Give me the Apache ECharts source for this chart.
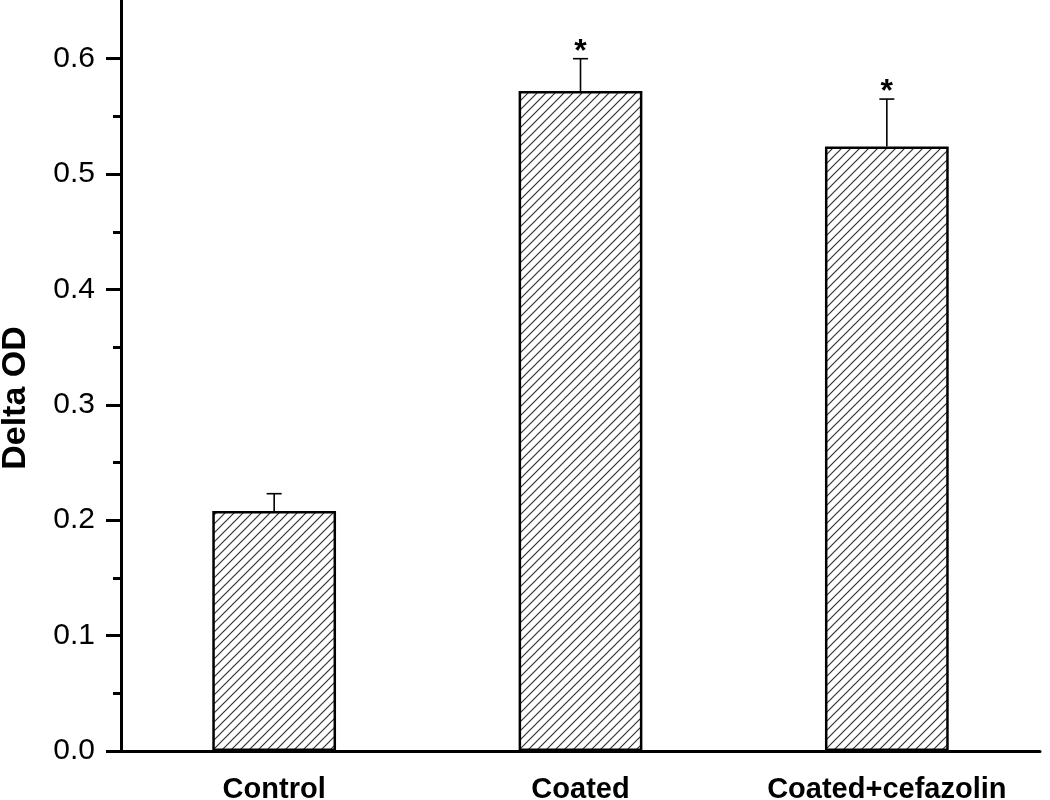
<!DOCTYPE html>
<html>
<head>
<meta charset="utf-8">
<script src="https://cdn.jsdelivr.net/npm/echarts@6/dist/echarts.min.js"></script>
<style>html,body{margin:0;padding:0;background:#fff}#c{width:1050px;height:800px}</style>
</head>
<body>
<div id="c"></div>
<script>
const categories = ['Control', 'Coated', 'Coated+cefazolin'];
const meanValues = [0.208, 0.572, 0.524];
const errorValues = [0.015, 0.028, 0.041];
const significance = ['', '*', '*'];
const majorTicks = [0, 0.1, 0.2, 0.3, 0.4, 0.5, 0.6];
const minorTicks = [0.05, 0.15, 0.25, 0.35, 0.45, 0.55];

function hatch() {
  const s = 9;
  const c = document.createElement('canvas');
  c.width = s; c.height = s;
  const g = c.getContext('2d');
  g.fillStyle = '#ffffff';
  g.fillRect(0, 0, s, s);
  g.strokeStyle = '#333333';
  g.lineWidth = 1.2;
  g.beginPath();
  g.moveTo(-1, s + 1); g.lineTo(s + 1, -1);
  g.moveTo(-2, 2); g.lineTo(2, -2);
  g.moveTo(s - 2, s + 2); g.lineTo(s + 2, s - 2);
  g.stroke();
  return c;
}

const FONT = 'Liberation Sans, Arial, sans-serif';
const chart = echarts.init(document.getElementById('c'));
const errData = categories.map((c, i) => [i, meanValues[i], meanValues[i] + errorValues[i], significance[i]]);
const axisCommon = {
  type: 'value', min: 0, max: 0.65, position: 'left',
  splitLine: { show: false },
  axisLine: { show: true, lineStyle: { color: '#000', width: 3 } }
};
chart.setOption({
  animation: false,
  backgroundColor: '#fff',
  grid: { left: 121, right: 10, top: 1, bottom: 49, outerBoundsMode: 'none' },
  xAxis: {
    type: 'category',
    data: categories,
    axisLine: { lineStyle: { color: '#000', width: 3 } },
    axisTick: { alignWithLabel: true, length: 14, lineStyle: { color: '#000', width: 3 } },
    axisLabel: { interval: 0, hideOverlap: false, color: '#000', fontSize: 29, fontWeight: 'bold', fontFamily: FONT, margin: 24 }
  },
  yAxis: [
    Object.assign({}, axisCommon, {
      name: 'Delta OD',
      nameLocation: 'middle',
      nameGap: 88,
      nameTextStyle: { color: '#000', fontSize: 34, fontWeight: 'bold', fontFamily: FONT, padding: [0, 44, 0, 0] },
      axisTick: { show: true, length: 15, customValues: majorTicks, lineStyle: { color: '#000', width: 3 } },
      axisLabel: { color: '#000', fontSize: 30, fontFamily: FONT, margin: 26, customValues: majorTicks, formatter: v => v.toFixed(1) }
    }),
    Object.assign({}, axisCommon, {
      axisTick: { show: true, length: 8, customValues: minorTicks, lineStyle: { color: '#000', width: 3 } },
      axisLabel: { show: false }
    })
  ],
  series: [
    {
      type: 'bar',
      yAxisIndex: 0,
      data: meanValues,
      barWidth: '40.4%',
      itemStyle: { color: { image: hatch(), repeat: 'repeat' }, borderColor: '#000', borderWidth: 2.5 }
    },
    {
      type: 'custom',
      yAxisIndex: 0,
      data: errData,
      z: 5,
      renderItem: function (params, api) {
        const base = api.coord([api.value(0), api.value(1)]);
        const top = api.coord([api.value(0), api.value(2)]);
        const x = base[0];
        const half = 7.5;
        const children = [
          { type: 'line', shape: { x1: x, y1: base[1], x2: x, y2: top[1] }, style: { stroke: '#000', lineWidth: 1.6 } },
          { type: 'line', shape: { x1: x - half, y1: top[1], x2: x + half, y2: top[1] }, style: { stroke: '#000', lineWidth: 1.6 } }
        ];
        const sig = errData[params.dataIndex][3];
        if (sig) {
          children.push({
            type: 'text',
            style: { text: sig, x: x, y: top[1] + 9, align: 'center', verticalAlign: 'bottom', fontSize: 32, fontWeight: 'bold', fontFamily: FONT, fill: '#000' }
          });
        }
        return { type: 'group', children: children };
      }
    }
  ]
});
</script>
</body>
</html>
